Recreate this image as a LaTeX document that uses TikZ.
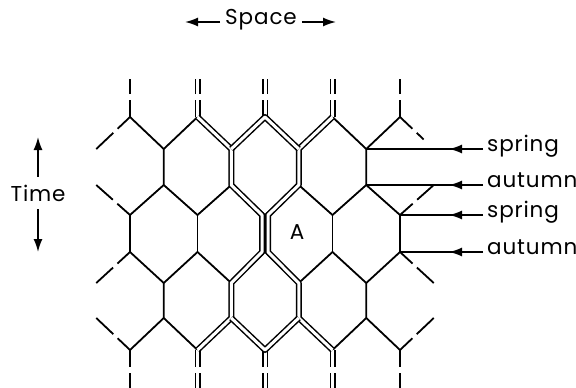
\documentclass[tikz,border=0pt]{standalone}
\usepackage{fontspec}
\setmainfont[LetterSpace=4]{Poppins}
\usetikzlibrary{arrows.meta, decorations.markings, calc}

\tikzset{
  cell/.style={line width=1.8pt, line join=round},
  broken/.style={cell, dash pattern=on 17pt off 6pt on 40pt},
  twin/.style={cell, double, double distance=3pt, line width=1.5pt},
  lettering/.style={font=\fontsize{21.5}{25}\selectfont},
  flat/.style={lettering, text height=1ex, text depth=0pt, inner sep=5pt},
  season/.style={flat, anchor=west, inner sep=4pt},
  tagline/.style={line width=1.6pt, postaction={decorate},
    decoration={markings, mark=at position 34pt with {\arrow{Latex[length=13pt,width=9pt]}}}},
  pointer/.style={line width=1.6pt, -{Latex[length=13pt,width=9pt]}}
}

\begin{document}
\begin{tikzpicture}[x=1pt, y=-1pt]
\useasboundingbox (0,0) rectangle (576,388);
\foreach \k in {0,...,10}
  \foreach \j/\y in {0/79,1/117,2/149,3/185,4/215,5/252,6/283,7/318,8/350,9/388}
    \coordinate (p\k-\j) at ({96.25+33.75*\k},\y);

\foreach \k in {2,4,6,8}{
  \pgfmathtruncatemacro\l{\k-1}
  \pgfmathtruncatemacro\r{\k+1}
  \draw[cell] (p\l-1) -- (p\k-2) -- (p\k-3) -- (p\l-4) (p\r-1) -- (p\k-2) (p\k-3) -- (p\r-4);
  \draw[cell] (p\l-5) -- (p\k-6) -- (p\k-7) -- (p\l-8) (p\r-5) -- (p\k-6) (p\k-7) -- (p\r-8);
}
\foreach \k in {1,3,...,9} \draw[cell] (p\k-4) -- (p\k-5);

\foreach \k in {1,9} \draw[broken] (p\k-1) -- (p\k-0) (p\k-8) -- (p\k-9);
\draw[broken] (p1-1) -- (p0-2) (p1-4) -- (p0-3) (p1-5) -- (p0-6) (p1-8) -- (p0-7);
\draw[broken] (p9-1) -- ($(p9-1)!.7!(p10-2)$) (p9-4) -- (p10-3) (p9-5) -- (p10-6) (p9-8) -- (p10-7);

\foreach \k in {3,5,7} \draw[twin, dash pattern=on 17pt off 6pt on 40pt] (p\k-1) -- (p\k-0) (p\k-8) -- (p\k-9);
\draw[twin] (p3-1) -- (p4-2) -- (p4-3) -- ([xshift=-3pt]p5-4) -- ([xshift=-3pt]p5-5) -- (p4-6) -- (p4-7) -- (p3-8);
\draw[twin] (p7-1) -- (p6-2) -- (p6-3) -- ([xshift=3pt]p5-4) -- ([xshift=3pt]p5-5) -- (p6-6) -- (p6-7) -- (p7-8);
\draw[twin] (p4-2) -- (p5-1) -- (p6-2) (p4-7) -- (p5-8) -- (p6-7);

\node[lettering] (cellA) at (297,232) {A};

\node[flat] (space) at (261,22) {Space};
\coordinate (spaceL) at (185,22);
\coordinate (spaceR) at (336,22);
\draw[pointer] (space.west) -- (spaceL);
\draw[pointer] (space.east) -- (spaceR);

\node[lettering, inner sep=8pt] (time) at (38,193) {Time};
\coordinate (timeU) at (38,137);
\coordinate (timeD) at (38,252);
\draw[pointer] (time.north) -- (timeU);
\draw[pointer] (time.south) -- (timeD);

\node[season] (spring1) at (483,149) {spring};
\node[season] (autumn1) at (483,185) {autumn};
\node[season] (spring2) at (483,215) {spring};
\node[season] (autumn2) at (483,252) {autumn};
\draw[tagline] (spring1.west) -- (p8-2);
\draw[tagline] (autumn1.west) -- (p8-3);
\draw[tagline] (spring2.west) -- (p9-4);
\draw[tagline] (autumn2.west) -- (p9-5);
\end{tikzpicture}
\end{document}
